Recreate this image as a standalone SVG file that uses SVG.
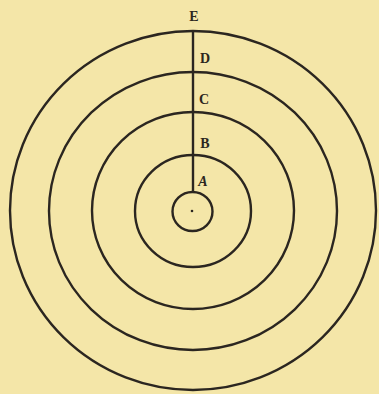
<svg xmlns="http://www.w3.org/2000/svg" width="379" height="394" viewBox="0 0 379 394">
<style>
.c{fill:none;stroke:#2b2620;stroke-width:2.4}
.t{font-family:"Liberation Serif",serif;font-size:14px;font-weight:bold;fill:#2b2620;text-anchor:middle}
</style>
<rect width="379" height="394" fill="#f4e6a8"/>
<g id="circles">
<ellipse id="c1" class="c" cx="193" cy="210.5" rx="183" ry="179.5"/>
<ellipse id="c2" class="c" cx="193" cy="211" rx="144" ry="139"/>
<ellipse id="c3" class="c" cx="193" cy="210.5" rx="101" ry="98.5"/>
<ellipse id="c4" class="c" cx="193" cy="211" rx="58" ry="56"/>
<ellipse id="c5" class="c" cx="192.5" cy="211.5" rx="20" ry="19.5"/>
<circle cx="192" cy="211" r="1.3" fill="#2b2620"/>
</g>
<g id="connectors">
<line class="c" x1="193" y1="30" x2="193" y2="192"/>
</g>
<g id="labels">
<text class="t" x="194" y="21">E</text>
<text class="t" x="205" y="63">D</text>
<text class="t" x="204" y="104">C</text>
<text class="t" x="205" y="148">B</text>
<text class="t" x="203" y="186" font-style="italic">A</text>
</g>
</svg>
